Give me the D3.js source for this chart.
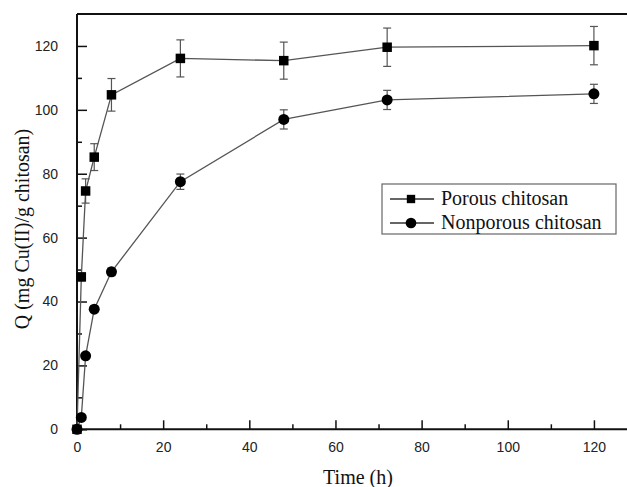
<!DOCTYPE html>
<html lang="en">
<head>
    <meta charset="UTF-8">
    <title>Cu(II) adsorption</title>
    <script src="https://d3js.org/d3.v7.min.js"></script>
    <style>
        body { margin: 0; background: #fff; }
        svg { display: block; }
        .tick text { font-family: "Liberation Sans", Arial, sans-serif; font-size: 14px; fill: #222; }
        .lbl { font-family: "Liberation Serif", "Times New Roman", serif; font-size: 20px; fill: #111; }
        .leg { font-family: "Liberation Serif", "Times New Roman", serif; font-size: 20px; fill: #111; }
    </style>
</head>
<body>
<svg id="canvas" width="627" height="487"></svg>
<script>
    // data
    let times = [0, 1, 2, 4, 8, 24, 48, 72, 120];
    let porous = [0, 47.7, 74.6, 85.2, 104.7, 116.1, 115.4, 119.6, 120.1];
    let porousErr = [0, 1.2, 3.8, 4.2, 5.1, 5.8, 5.8, 6.0, 6.0];
    let nonporous = [0, 3.7, 23.0, 37.6, 49.3, 77.5, 97.0, 103.1, 105.0];
    let nonporousErr = [0, 0.5, 0.8, 1.0, 1.2, 2.4, 3.0, 3.0, 3.0];
    let seriesNames = ["Porous chitosan", "Nonporous chitosan"];

    let svg = d3.select('svg');
    let padLeft = 77, padTop = 14, axisY = 429.3;
    let x = d3.scaleLinear().domain([0, 130]).range([padLeft, padLeft + 560]);
    let y = d3.scaleLinear().domain([0, 130]).range([axisY, padTop]);

    // frame (right side falls off the picture)
    svg.append('line').attr('x1', padLeft).attr('x2', 640).attr('y1', padTop).attr('y2', padTop)
        .attr('stroke', '#111').attr('stroke-width', 2);

    // minor ticks
    let minorX = d3.axisBottom(x).tickValues(d3.range(10, 130, 20)).tickSize(-5).tickFormat('');
    let minorY = d3.axisLeft(y).tickValues(d3.range(10, 130, 20)).tickSize(-5).tickFormat('');
    svg.append('g').attr('transform', `translate(0,${axisY})`).call(minorX)
        .call(g => g.select('.domain').remove());
    svg.append('g').attr('transform', `translate(${padLeft},0)`).call(minorY)
        .call(g => g.select('.domain').remove());

    let xAxis = d3.axisBottom(x).tickValues(d3.range(0, 121, 20)).tickSize(-9).tickPadding(13);
    let yAxis = d3.axisLeft(y).tickValues(d3.range(0, 121, 20)).tickSize(-10).tickPadding(19);
    let gx = svg.append('g').attr('transform', `translate(0,${axisY})`).call(xAxis);
    let gy = svg.append('g').attr('transform', `translate(${padLeft},0)`).call(yAxis);
    svg.selectAll('.domain').attr('stroke-width', 2).attr('stroke', '#111');
    svg.selectAll('.tick line').attr('stroke', '#111').attr('stroke-width', 1.5);
    gx.select('.domain').attr('d', `M${padLeft},0H640`);
    gy.select('.domain').attr('d', `M0,${axisY}V${padTop}`);

    svg.append('text').attr('class', 'lbl').attr('x', 358).attr('y', 484)
        .attr('text-anchor', 'middle').text('Time (h)');
    svg.append('text').attr('class', 'lbl')
        .attr('transform', 'translate(29,229) rotate(-90)')
        .attr('text-anchor', 'middle').text('Q (mg Cu(II)/g chitosan)');

    let line = d3.line().x(d => x(d[0])).y(d => y(d[1]));

    function drawSeries(vals, errs, shape) {
        let pts = times.map((t, i) => [t, vals[i], errs[i]]);
        let g = svg.append('g');
        g.append('path').datum(pts).attr('d', line)
            .attr('fill', 'none').attr('stroke', '#555').attr('stroke-width', 1.3);
        let eb = g.selectAll('.eb').data(pts.filter(d => d[2] > 0.6)).enter().append('g')
            .attr('stroke', '#555').attr('stroke-width', 1.2);
        eb.append('line').attr('x1', d => x(d[0])).attr('x2', d => x(d[0]))
            .attr('y1', d => y(d[1] - d[2])).attr('y2', d => y(d[1] + d[2]));
        eb.append('line').attr('x1', d => x(d[0]) - 4).attr('x2', d => x(d[0]) + 4)
            .attr('y1', d => y(d[1] + d[2])).attr('y2', d => y(d[1] + d[2]));
        eb.append('line').attr('x1', d => x(d[0]) - 4).attr('x2', d => x(d[0]) + 4)
            .attr('y1', d => y(d[1] - d[2])).attr('y2', d => y(d[1] - d[2]));
        let sym = d3.symbol().type(shape).size(shape === d3.symbolSquare ? 90 : 95);
        g.selectAll('.pt').data(pts).enter().append('path')
            .attr('transform', d => `translate(${x(d[0])},${y(d[1])})`)
            .attr('d', sym).attr('fill', '#000');
    }
    drawSeries(porous, porousErr, d3.symbolSquare);
    drawSeries(nonporous, nonporousErr, d3.symbolCircle);

    // legend
    let leg = svg.append('g');
    leg.append('rect').attr('x', 382).attr('y', 184).attr('width', 234).attr('height', 50)
        .attr('fill', '#fff').attr('stroke', '#666').attr('stroke-width', 1.2);
    [d3.symbolSquare, d3.symbolCircle].forEach((s, i) => {
        let yy = 199 + i * 24;
        leg.append('line').attr('x1', 390).attr('x2', 434).attr('y1', yy).attr('y2', yy)
            .attr('stroke', '#333').attr('stroke-width', 1.3);
        leg.append('path').attr('transform', `translate(411,${yy})`)
            .attr('d', d3.symbol().type(s).size(s === d3.symbolSquare ? 70 : 90)).attr('fill', '#000');
        leg.append('text').attr('class', 'leg').attr('x', 441).attr('y', yy + 6).text(seriesNames[i]);
    });
</script>
</body>
</html>
